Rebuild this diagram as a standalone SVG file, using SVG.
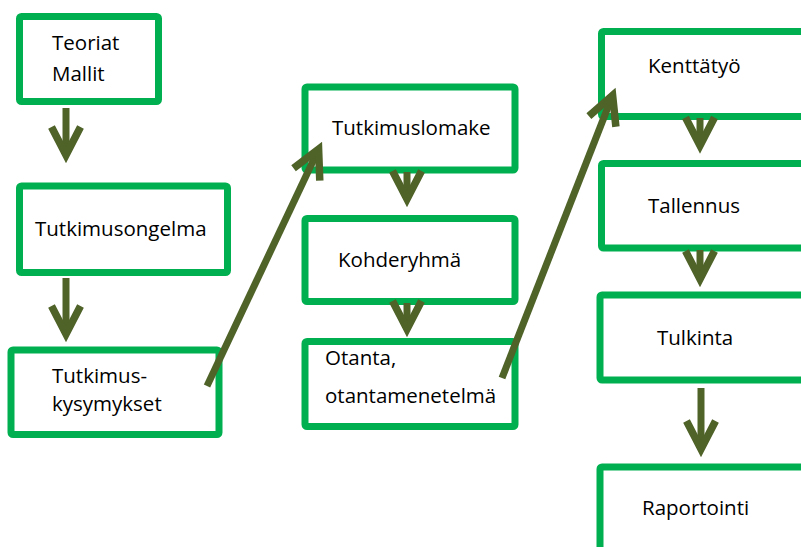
<svg xmlns="http://www.w3.org/2000/svg" width="801" height="547" viewBox="0 0 801 547">
  <style>
    .box { fill: #ffffff; stroke: #00b050; stroke-width: 7; }
    .lbl { font-family: "Open Sans", "Liberation Sans", sans-serif; font-size: 20.5px; fill: #000000; }
    .conn { fill: none; stroke: #4f6228; stroke-width: 7; marker-end: url(#head); }
  </style>
  <defs>
    <marker id="head" markerUnits="userSpaceOnUse" viewBox="-40 -25 60 50" markerWidth="60" markerHeight="50" refX="0" refY="0" orient="auto" overflow="visible">
      <path d="M -28 -14.5 L 0 0 L -28 14.5" fill="none" stroke="#4f6228" stroke-width="7.5" stroke-linejoin="miter" stroke-miterlimit="10"/>
    </marker>
  </defs>
  <rect width="801" height="547" fill="#ffffff"/>

  <g id="n-teoriat">
    <rect class="box" x="19.5" y="16.5" width="139" height="85" rx="2"/>
    <text class="lbl" x="52" y="50">Teoriat</text>
    <text class="lbl" x="52" y="81">Mallit</text>
  </g>
  <g id="n-tutkimusongelma">
    <rect class="box" x="19.5" y="186" width="208" height="86.5" rx="2"/>
    <text class="lbl" x="35" y="236">Tutkimusongelma</text>
  </g>
  <g id="n-tutkimuskysymykset">
    <rect class="box" x="11" y="350" width="208" height="84.5" rx="2"/>
    <text class="lbl" x="52" y="383">Tutkimus-</text>
    <text class="lbl" x="52" y="411">kysymykset</text>
  </g>
  <g id="n-tutkimuslomake">
    <rect class="box" x="305" y="87" width="210" height="83" rx="2"/>
    <text class="lbl" x="332" y="135">Tutkimuslomake</text>
  </g>
  <g id="n-kohderyhma">
    <rect class="box" x="305" y="218.5" width="210" height="83" rx="2"/>
    <text class="lbl" x="338" y="267">Kohderyhmä</text>
  </g>
  <g id="n-otanta">
    <rect class="box" x="305" y="341.5" width="210" height="85" rx="2"/>
    <text class="lbl" x="325" y="365">Otanta,</text>
    <text class="lbl" x="325" y="403">otantamenetelmä</text>
  </g>
  <g id="n-kenttatyo">
    <rect class="box" x="601.5" y="31.5" width="240" height="85" rx="2"/>
    <text class="lbl" x="648" y="73">Kenttätyö</text>
  </g>
  <g id="n-tallennus">
    <rect class="box" x="601.5" y="163.5" width="240" height="84.5" rx="2"/>
    <text class="lbl" x="648" y="213">Tallennus</text>
  </g>
  <g id="n-tulkinta">
    <rect class="box" x="600" y="295" width="240" height="85" rx="2"/>
    <text class="lbl" x="657" y="345">Tulkinta</text>
  </g>
  <g id="n-raportointi">
    <rect class="box" x="600" y="467" width="240" height="120" rx="2"/>
    <text class="lbl" x="642" y="515">Raportointi</text>
  </g>

  <g id="connectors">
    <line class="conn" x1="66" y1="108" x2="66" y2="155"/>
    <line class="conn" x1="66" y1="278" x2="66" y2="334"/>
    <line class="conn" x1="207" y1="386" x2="318.6" y2="149.2"/>
    <line class="conn" x1="502" y1="378" x2="612.6" y2="95.4"/>
    <line class="conn" x1="407" y1="172" x2="407" y2="199"/>
    <line class="conn" x1="407" y1="303" x2="407" y2="329"/>
    <line class="conn" x1="700" y1="118" x2="700" y2="145.5"/>
    <line class="conn" x1="700" y1="250" x2="700" y2="279"/>
    <line class="conn" x1="701" y1="388" x2="701" y2="449"/>
  </g>
</svg>
